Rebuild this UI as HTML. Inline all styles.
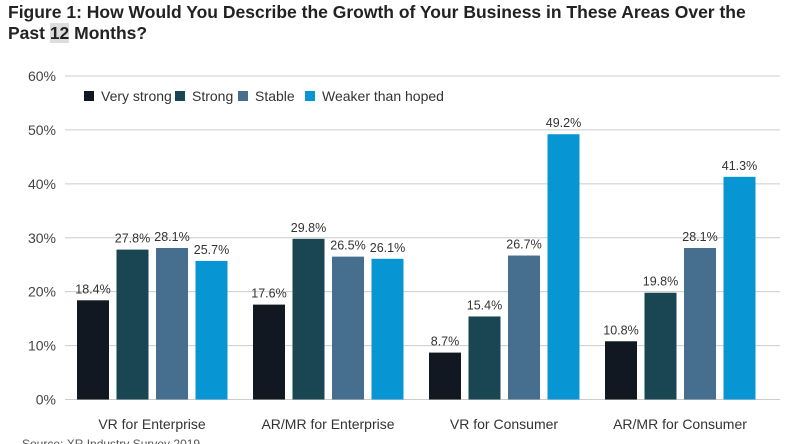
<!DOCTYPE html>
<html><head><meta charset="utf-8"><style>
body{margin:0;width:800px;height:444px;background:#fff;overflow:hidden;font-family:"Liberation Sans",sans-serif}
.t{position:absolute;left:8px;top:2px;font-weight:bold;font-size:17.5px;line-height:21px;color:#222}
.t span{background:#ddd}
</style></head><body>
<div class="t">Figure 1: How Would You Describe the Growth of Your Business in These Areas Over the<br>Past <span>12</span> Months?</div>
<svg id="c" width="800" height="444" style="position:absolute;left:0;top:0"></svg>
<script>
const categories=["VR for Enterprise","AR/MR for Enterprise","VR for Consumer","AR/MR for Consumer"];
const seriesNames=["Very strong","Strong","Stable","Weaker than hoped"];
const veryStrong=[18.4,17.6,8.7,10.8];
const strong=[27.8,29.8,15.4,19.8];
const stable=[28.1,26.5,26.7,28.1];
const weaker=[25.7,26.1,49.2,41.3];
const yTicks=[0,10,20,30,40,50,60];
const colors=["#111822","#1a4553","#466f8f","#0795d4"];
const series=[veryStrong,strong,stable,weaker];
const svg=document.getElementById('c');const NS="http://www.w3.org/2000/svg";
const y0=399.5,y60=76;
function y(v){return y0-(v/60)*(y0-y60);}
function x(ci,si){return 77+ci*176+si*39.5;}
function mk(t,a,txt){const e=document.createElementNS(NS,t);for(const k in a)e.setAttribute(k,a[k]);if(txt!=null)e.textContent=txt;svg.appendChild(e);return e;}
yTicks.forEach(v=>{
 const l=mk('line',{x1:65,x2:780,y1:y(v),y2:y(v),stroke:'#ccc','stroke-width':1});
 
 
 const t=mk('text',{x:56,y:y(v)+5,'text-anchor':'end','font-size':14,fill:'#444'},v+'%');
 
 
});
categories.forEach((c,ci)=>{
 series.forEach((s,si)=>{
  const r=mk('rect',{x:x(ci,si),y:y(s[ci]),width:32,height:y0-y(s[ci]),fill:colors[si]});
  
  
  const t=mk('text',{x:x(ci,si)+16,y:y(s[ci])-7,'text-anchor':'middle','font-size':12.5,fill:'#333'},s[ci].toFixed(1)+'%');
  
  
 });
 const t=mk('text',{x:x(ci,0)+75,y:429,'text-anchor':'middle','font-size':14,fill:'#333'},c);
 
 
});
const lx=[84,175,238,305];
seriesNames.forEach((n,i)=>{
 const r=mk('rect',{x:lx[i],y:91,width:10,height:10,fill:colors[i]});
 
 
 const t=mk('text',{x:lx[i]+17,y:101,'font-size':14,fill:'#333'},n);
 
 
});
const s=mk('text',{x:22,y:448,'font-size':12,fill:'#555'},'Source: XR Industry Survey 2019');


</script>
</body></html>
